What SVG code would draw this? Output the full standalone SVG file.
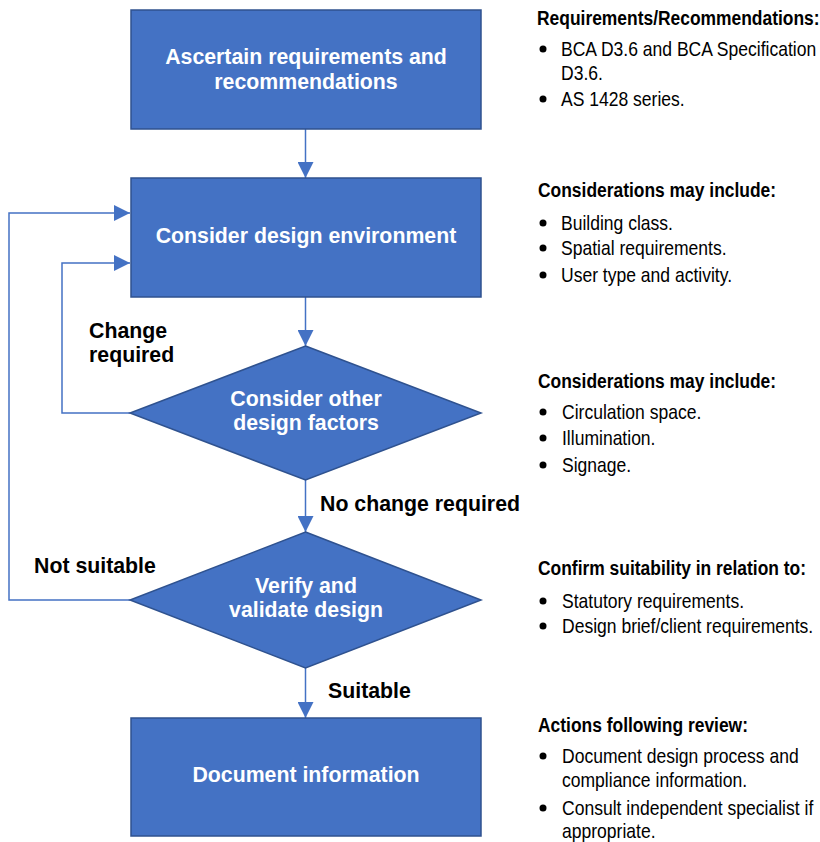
<svg xmlns="http://www.w3.org/2000/svg" width="820" height="842" viewBox="0 0 820 842">
<style>
.node{fill:#4472C4;stroke:#2F528F;stroke-width:1.5}
.nt{font-family:"Liberation Sans",Arial,sans-serif;font-weight:bold;font-size:21.3px;fill:#fff;text-anchor:middle}
.lbl{font-family:"Liberation Sans",Arial,sans-serif;font-weight:bold;font-size:21.3px;fill:#000}
.conn{fill:none;stroke:#4472C4;stroke-width:1.5;marker-end:url(#ah)}
.h{font-family:"Liberation Sans",Arial,sans-serif;font-weight:bold;font-size:21px;fill:#000}
.b{font-family:"Liberation Sans",Arial,sans-serif;font-size:21px;fill:#000}
.dot{fill:#000}
</style>
<defs>
<marker id="ah" markerUnits="userSpaceOnUse" markerWidth="16" markerHeight="16" viewBox="0 0 15 15" refX="15" refY="7.5" orient="auto">
<path d="M0,0 L15,7.5 L0,15 z" fill="#4472C4"/>
</marker>
</defs>
<g id="connectors">
<path class="conn" d="M305.5,129 V178"/>
<path class="conn" d="M305.5,297 V346"/>
<path class="conn" d="M305.5,480 V532"/>
<path class="conn" d="M305.5,668 V718"/>
<path class="conn" d="M130,413 H62 V263 H130"/>
<path class="conn" d="M130,600 H9 V213 H130"/>
</g>
<g id="n1"><rect class="node" x="131" y="10" width="350" height="119"/>
<text class="nt" x="306" y="64">Ascertain requirements and</text>
<text class="nt" x="306" y="89">recommendations</text></g>
<g id="n2"><rect class="node" x="131" y="178" width="350" height="119"/>
<text class="nt" x="306" y="243">Consider design environment</text></g>
<g id="n3"><polygon class="node" points="305.5,346 481,413 305.5,480 130,413"/>
<text class="nt" x="306" y="406">Consider other</text>
<text class="nt" x="306" y="430">design factors</text></g>
<g id="n4"><polygon class="node" points="305.5,532 481,600 305.5,668 130,600"/>
<text class="nt" x="306" y="593">Verify and</text>
<text class="nt" x="306" y="617">validate design</text></g>
<g id="n5"><rect class="node" x="131" y="718" width="350" height="118"/>
<text class="nt" x="306" y="782">Document information</text></g>
<g id="labels">
<text class="lbl" x="89" y="338">Change</text>
<text class="lbl" x="89" y="362">required</text>
<text class="lbl" x="320" y="511">No change required</text>
<text class="lbl" x="34" y="573">Not suitable</text>
<text class="lbl" x="328" y="698">Suitable</text>
</g>
<g id="notes">
<text class="h" transform="translate(537,25) scale(0.83,1)">Requirements/Recommendations:</text>
<circle class="dot" cx="543" cy="49" r="3.5"/>
<text class="b" transform="translate(561,56) scale(0.835,1)">BCA D3.6 and BCA Specification</text>
<text class="b" transform="translate(561,80) scale(0.835,1)">D3.6.</text>
<circle class="dot" cx="543" cy="99" r="3.5"/>
<text class="b" transform="translate(561,106) scale(0.835,1)">AS 1428 series.</text>

<text class="h" transform="translate(538,197) scale(0.83,1)">Considerations may include:</text>
<circle class="dot" cx="543" cy="223" r="3.5"/>
<text class="b" transform="translate(561,230) scale(0.835,1)">Building class.</text>
<circle class="dot" cx="543" cy="248" r="3.5"/>
<text class="b" transform="translate(561,255) scale(0.835,1)">Spatial requirements.</text>
<circle class="dot" cx="543" cy="275" r="3.5"/>
<text class="b" transform="translate(561,282) scale(0.835,1)">User type and activity.</text>

<text class="h" transform="translate(538,388) scale(0.83,1)">Considerations may include:</text>
<circle class="dot" cx="543" cy="412" r="3.5"/>
<text class="b" transform="translate(562,419) scale(0.835,1)">Circulation space.</text>
<circle class="dot" cx="543" cy="438" r="3.5"/>
<text class="b" transform="translate(562,445) scale(0.835,1)">Illumination.</text>
<circle class="dot" cx="543" cy="465" r="3.5"/>
<text class="b" transform="translate(562,472) scale(0.835,1)">Signage.</text>

<text class="h" transform="translate(538,575) scale(0.83,1)">Confirm suitability in relation to:</text>
<circle class="dot" cx="543" cy="601" r="3.5"/>
<text class="b" transform="translate(562,608) scale(0.835,1)">Statutory requirements.</text>
<circle class="dot" cx="543" cy="626" r="3.5"/>
<text class="b" transform="translate(562,633) scale(0.835,1)">Design brief/client requirements.</text>

<text class="h" transform="translate(538,732) scale(0.83,1)">Actions following review:</text>
<circle class="dot" cx="543" cy="756" r="3.5"/>
<text class="b" transform="translate(562,763) scale(0.835,1)">Document design process and</text>
<text class="b" transform="translate(562,787) scale(0.835,1)">compliance information.</text>
<circle class="dot" cx="543" cy="808" r="3.5"/>
<text class="b" transform="translate(562,815) scale(0.835,1)">Consult independent specialist if</text>
<text class="b" transform="translate(562,838) scale(0.835,1)">appropriate.</text>
</g>
</svg>
